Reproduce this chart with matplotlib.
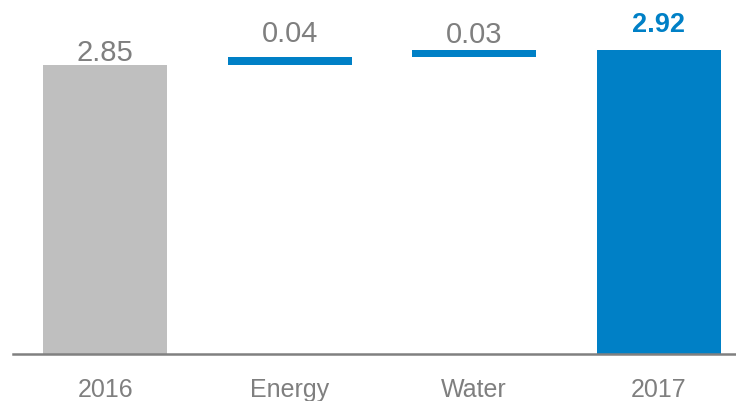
import matplotlib
matplotlib.use("Agg")
import matplotlib.pyplot as plt

# Bridge from 2016 to 2017
categories = ["2016", "Energy", "Water", "2017"]
values = [2.85, 0.04, 0.03, 2.92]
kinds = ["total", "delta", "delta", "total"]
labels = ["2.85", "0.04", "0.03", "2.92"]

GRAY = "#BFBFBF"
BLUE = "#0080C6"
TEXT = "#7F7F7F"
FLOOR = 1.5

plt.rcParams["font.family"] = ["Liberation Sans", "DejaVu Sans"]

fig = plt.figure(figsize=(7.36, 4.02), dpi=100)
ax = fig.add_axes([13 / 736, 47 / 402, 1 - 13 / 736, 1 - 47 / 402])

bottoms, heights, colors = [], [], []
running = 0.0
for i, (v, k) in enumerate(zip(values, kinds)):
    if k == "total":
        bottoms.append(FLOOR)
        heights.append(v - FLOOR)
        running = v
        colors.append(GRAY if i == 0 else BLUE)
    else:
        bottoms.append(running)
        heights.append(v)
        running += v
        colors.append(BLUE)

x = list(range(len(categories)))
ax.bar(x, heights, bottom=bottoms, width=0.67, color=colors, zorder=2)

# label offsets (points above the top of each bar)
offsets = [3.5, 11, 6, 14]
for i, (b, h) in enumerate(zip(bottoms, heights)):
    last = i == len(values) - 1
    ax.annotate(labels[i], (x[i], b + h), xytext=(0, offsets[i]),
                textcoords="offset points", ha="center", va="baseline",
                fontsize=19.5 if last else 21,
                fontweight="bold" if last else "normal",
                color=BLUE if last else TEXT)

ax.set_xlim(-0.5, 3.419)
ax.set_ylim(FLOOR, FLOOR + 355 / 214)
ax.set_xticks(x)
ax.set_xticklabels(categories, fontsize=18, color=TEXT)
ax.tick_params(axis="x", length=0, pad=16.5)
ax.set_yticks([])
for s in ["top", "right", "left"]:
    ax.spines[s].set_visible(False)
ax.spines["bottom"].set_color("#808080")
ax.spines["bottom"].set_linewidth(1.8)
ax.spines["bottom"].set_zorder(3)

fig.savefig("out.png", dpi=100)
